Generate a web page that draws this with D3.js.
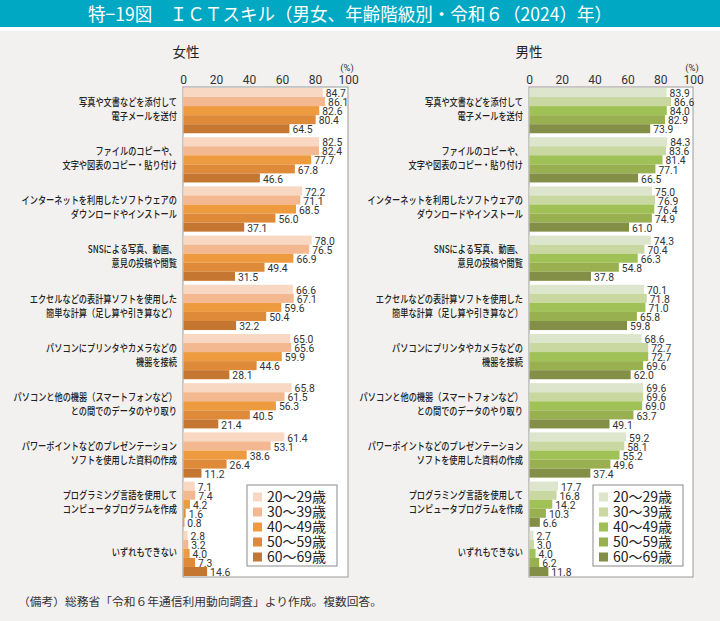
<!DOCTYPE html>
<html><head><meta charset="utf-8">
<script src="https://cdn.jsdelivr.net/npm/d3@7"></script>
<style>html,body{margin:0;padding:0;background:#f2f1ef;} svg{display:block;}</style>
</head><body><svg id="c" width="720" height="621"></svg>
<script>
const categories = [
  ["写真や文書などを添付して", "電子メールを送付"],
  ["ファイルのコピーや、", "文字や図表のコピー・貼り付け"],
  ["インターネットを利用したソフトウェアの", "ダウンロードやインストール"],
  ["SNSによる写真、動画、", "意見の投稿や閲覧"],
  ["エクセルなどの表計算ソフトを使用した", "簡単な計算（足し算や引き算など）"],
  ["パソコンにプリンタやカメラなどの", "機器を接続"],
  ["パソコンと他の機器（スマートフォンなど）", "との間でのデータのやり取り"],
  ["パワーポイントなどのプレゼンテーション", "ソフトを使用した資料の作成"],
  ["プログラミング言語を使用して", "コンピュータプログラムを作成"],
  ["いずれもできない"]
];
const ageGroups = ["20〜29歳", "30〜39歳", "40〜49歳", "50〜59歳", "60〜69歳"];
const femaleValues = [
  [84.7, 86.1, 82.6, 80.4, 64.5],
  [82.5, 82.4, 77.7, 67.8, 46.6],
  [72.2, 71.1, 68.5, 56.0, 37.1],
  [78.0, 76.5, 66.9, 49.4, 31.5],
  [66.6, 67.1, 59.6, 50.4, 32.2],
  [65.0, 65.6, 59.9, 44.6, 28.1],
  [65.8, 61.5, 56.3, 40.5, 21.4],
  [61.4, 53.1, 38.6, 26.4, 11.2],
  [7.1, 7.4, 4.2, 1.6, 0.8],
  [2.8, 3.2, 4.0, 7.3, 14.6]
];
const maleValues = [
  [83.9, 86.6, 84.0, 82.9, 73.9],
  [84.3, 83.6, 81.4, 77.1, 66.5],
  [75.0, 76.9, 76.4, 74.9, 61.0],
  [74.3, 70.4, 66.3, 54.8, 37.8],
  [70.1, 71.8, 71.0, 65.8, 59.8],
  [68.6, 72.7, 72.7, 69.6, 62.0],
  [69.6, 69.6, 69.0, 63.7, 49.1],
  [59.2, 58.1, 55.2, 49.6, 37.4],
  [17.7, 16.8, 14.2, 10.3, 6.6],
  [2.7, 3.0, 4.0, 6.2, 11.8]
];
const xTicks = [0, 20, 40, 60, 80, 100];
const femaleColors = ["#f9d8c3", "#f3b88f", "#ee9b3f", "#de8a38", "#c57732"];
const maleColors = ["#dde6cc", "#c8d8a0", "#a0c155", "#98b050", "#838f47"];

const titleText = "特−19図　ＩＣＴスキル（男女、年齢階級別・令和６（2024）年）";
const noteText = "（備考）総務省「令和６年通信利用動向調査」より作成。複数回答。";

const svg = d3.select("#c");
const JP = "'Noto Sans CJK JP', 'Noto Sans', sans-serif";
const NUM = "Roboto, 'Noto Sans', sans-serif";

svg.append("rect").attr("x", 0).attr("y", 0).attr("width", 720).attr("height", 621).attr("fill", "#f2f1ef");
svg.append("rect").attr("x", 0).attr("y", 0).attr("width", 720).attr("height", 27).attr("fill", "#00a8c3");
svg.append("rect").attr("x", 0).attr("y", 27).attr("width", 720).attr("height", 4).attr("fill", "#ffffff");
svg.append("text").attr("x", 88).attr("y", 21).attr("textLength", 524).attr("lengthAdjust", "spacingAndGlyphs")
  .attr("font-family", JP).attr("font-size", 18).attr("fill", "#fff").text(titleText);

svg.append("text").attr("x", 18).attr("y", 606).attr("font-family", JP).attr("font-size", 11)
  .attr("fill", "#333").attr("textLength", 364).attr("lengthAdjust", "spacingAndGlyphs").text(noteText);

const panels = [
  {title: "女性", titleX: 186, x0: 183, x1: 348, labelX: 177, values: femaleValues, colors: femaleColors, legendX: 247},
  {title: "男性", titleX: 529, x0: 529, x1: 693, labelX: 523, values: maleValues, colors: maleColors, legendX: 593}
];
const yTop = 87, yBot = 577;

panels.forEach(p => {
  const g = svg.append("g");
  const x = d3.scaleLinear().domain([0, 100]).range([p.x0, p.x1]);
  const y = d3.scaleBand().domain(d3.range(categories.length)).range([yTop, yBot]).paddingInner(0.08).paddingOuter(0.02);
  const yi = d3.scaleBand().domain(d3.range(ageGroups.length)).range([0, y.bandwidth()]);

  g.append("text").attr("x", p.titleX).attr("y", 57).attr("text-anchor", "middle")
    .attr("font-family", JP).attr("font-size", 13.5).attr("fill", "#222").text(p.title);
  g.append("text").attr("x", p.x1 - 1).attr("y", 71).attr("text-anchor", "middle")
    .attr("font-family", NUM).attr("font-size", 9.5).attr("fill", "#333").text("(%)");

  g.append("rect").attr("x", p.x0).attr("y", yTop).attr("width", p.x1 - p.x0).attr("height", yBot - yTop)
    .attr("fill", "#fff").attr("stroke", "#9a9a9a").attr("stroke-width", 1);

  const axis = d3.axisTop(x).tickValues(xTicks).tickSize(0).tickPadding(0);
  const ax = g.append("g").attr("transform", `translate(0,${yTop - 3})`).call(axis);
  ax.select(".domain").remove();
  ax.selectAll("text").attr("font-family", NUM).attr("font-size", 12).attr("fill", "#333").attr("dy", "0");

  categories.forEach((lines, ci) => {
    const cy = y(ci) + y.bandwidth() / 2 - 1.5;
    lines.forEach((ln, li) => {
      const ly = cy + (li - (lines.length - 1) / 2) * 14;
      g.append("text").attr("transform", `translate(${p.labelX},${ly}) scale(0.78,1)`)
        .attr("text-anchor", "end").attr("dy", "0.36em")
        .attr("font-family", JP).attr("font-size", 10.5).attr("font-weight", 500).attr("fill", "#222").text(ln);
    });
    const bg = g.append("g").attr("transform", `translate(0,${y(ci)})`);
    bg.selectAll("rect.bar").data(p.values[ci]).join("rect").attr("class", "bar")
      .attr("x", p.x0 + 0.5).attr("y", (d, i) => yi(i))
      .attr("width", d => Math.max(0, x(d) - p.x0 - 0.5)).attr("height", yi.bandwidth())
      .attr("fill", (d, i) => p.colors[i]);
    bg.selectAll("text.val").data(p.values[ci]).join("text").attr("class", "val")
      .attr("transform", (d, i) => `translate(${x(d) + 3},${yi(i) + yi.bandwidth() / 2 + 0.5}) scale(0.9,1)`)
      .attr("dy", "0.36em").attr("font-family", NUM).attr("font-size", 11.5).attr("fill", "#333")
      .text(d => d.toFixed(1));
  });

  const lg = g.append("g").attr("transform", `translate(${p.legendX},485)`);
  lg.append("rect").attr("width", 90).attr("height", 81).attr("fill", "#fff").attr("stroke", "#8a8a8a").attr("stroke-width", 1);
  ageGroups.forEach((a, i) => {
    const ry = 12 + i * 15;
    lg.append("rect").attr("x", 6).attr("y", ry - 4.5).attr("width", 9).attr("height", 9).attr("fill", p.colors[i]);
    lg.append("text").attr("x", 20).attr("y", ry).attr("dy", "0.36em").attr("font-family", JP)
      .attr("font-size", 14).attr("fill", "#222").text(a);
  });
});
</script></body></html>
